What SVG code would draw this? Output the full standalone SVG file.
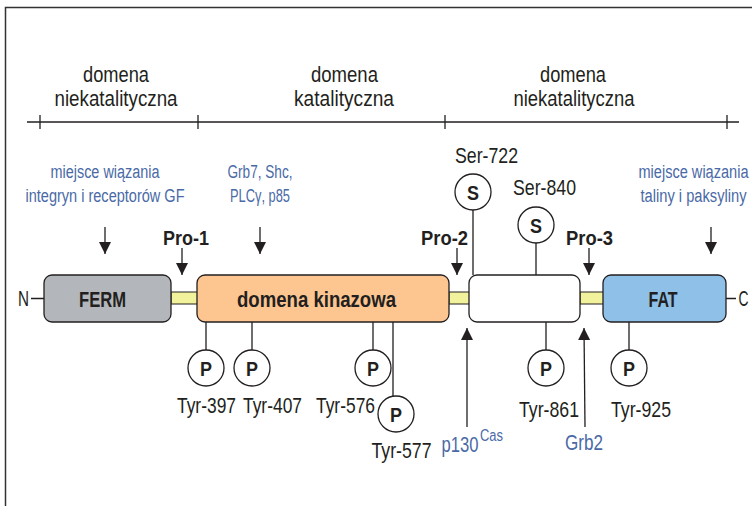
<svg xmlns="http://www.w3.org/2000/svg" width="752" height="506" viewBox="0 0 752 506">
<defs>
<style>
text{font-family:"Liberation Sans",Arial,sans-serif;fill:#231f20;text-anchor:middle}
.h{font-size:22px}
.b{font-size:18px;fill:#4a6aa6}
.bb{font-size:22px;fill:#4a6aa6}
.bold{font-weight:bold;font-size:21px}
.lab{font-size:22px}
.ln{stroke:#231f20;stroke-width:1.3;fill:none}
.circ{fill:#fff;stroke:#231f20;stroke-width:1.3}
.box{stroke:#231f20;stroke-width:1.3}
.link{fill:#f3f29c;stroke:#231f20;stroke-width:1}
</style>
<marker id="ah" viewBox="0 0 10 10" refX="10" refY="5" markerWidth="12" markerHeight="12" markerUnits="userSpaceOnUse" orient="auto">
<path d="M0,0 L10,5 L0,10 z" fill="#231f20"/>
</marker>
</defs>
<rect width="752" height="506" fill="#fff"/>
<g id="frame">
<path d="M5.5,506 V7.5 H752" fill="none" stroke="#333" stroke-width="1.5"/>
</g>
<g id="axis">
<path class="ln" d="M27,122 H739 M40,115 V129 M198,115 V129 M445,115 V129 M727,115 V129"/>
<text class="h" x="116" y="82" textLength="66" lengthAdjust="spacingAndGlyphs">domena</text>
<text class="h" x="116" y="106" textLength="123" lengthAdjust="spacingAndGlyphs">niekatalityczna</text>
<text class="h" x="344.5" y="82" textLength="67" lengthAdjust="spacingAndGlyphs">domena</text>
<text class="h" x="344" y="106" textLength="100" lengthAdjust="spacingAndGlyphs">katalityczna</text>
<text class="h" x="573" y="82" textLength="66" lengthAdjust="spacingAndGlyphs">domena</text>
<text class="h" x="574" y="106" textLength="121" lengthAdjust="spacingAndGlyphs">niekatalityczna</text>
</g>
<g id="connectors">
<path class="ln" d="M31,298.5 H44 M726,298.5 H736"/>
<path class="ln" d="M105,227 V254" marker-end="url(#ah)"/>
<path class="ln" d="M260,227 V254" marker-end="url(#ah)"/>
<path class="ln" d="M711,227 V254" marker-end="url(#ah)"/>
<path class="ln" d="M182,248 V275" marker-end="url(#ah)"/>
<path class="ln" d="M457,248 V275" marker-end="url(#ah)"/>
<path class="ln" d="M589,248 V275" marker-end="url(#ah)"/>
<path class="ln" d="M467,427 V328" marker-end="url(#ah)"/>
<path class="ln" d="M585,427 L584,328" marker-end="url(#ah)"/>
<path class="ln" d="M206,322 V350 M252,322 V350 M373,322 V350 M393,322 V396 M546,322 V350 M629,322 V350 M473,210 V275 M536,243 V275"/>
</g>
<g id="linkers">
<rect class="link" x="171" y="292" width="27" height="12"/>
<rect class="link" x="449" y="292" width="21" height="12"/>
<rect class="link" x="580" y="292" width="24" height="12"/>
</g>
<g id="ferm">
<rect class="box" x="44" y="275" width="127" height="47" rx="8" fill="#b3b7bb"/>
<text class="bold" x="102.5" y="306.5" style="font-size:22px" textLength="47" lengthAdjust="spacingAndGlyphs">FERM</text>
</g>
<g id="kinase">
<rect class="box" x="197" y="275" width="252" height="47" rx="8" fill="#fdc691"/>
<text class="bold" x="316.5" y="306.5" style="font-size:22px" textLength="159" lengthAdjust="spacingAndGlyphs">domena kinazowa</text>
</g>
<g id="middle">
<rect class="box" x="469" y="275" width="111" height="47" rx="8" fill="#fff"/>
</g>
<g id="fat">
<rect class="box" x="603" y="275" width="123" height="47" rx="8" fill="#8fc0e8"/>
<text class="bold" x="663" y="306.5" style="font-size:22px" textLength="29" lengthAdjust="spacingAndGlyphs">FAT</text>
</g>
<g id="termini">
<text class="lab" x="23.5" y="306" textLength="11" lengthAdjust="spacingAndGlyphs">N</text>
<text class="lab" x="743.5" y="306" textLength="10" lengthAdjust="spacingAndGlyphs">C</text>
</g>
<g id="labels-top">
<text class="b" x="105" y="178" textLength="109" lengthAdjust="spacingAndGlyphs">miejsce wiązania</text>
<text class="b" x="105" y="202" textLength="159" lengthAdjust="spacingAndGlyphs">integryn i receptorów GF</text>
<text class="b" x="260" y="178" textLength="65" lengthAdjust="spacingAndGlyphs">Grb7, Shc,</text>
<text class="b" x="260" y="202" textLength="60" lengthAdjust="spacingAndGlyphs">PLCγ, p85</text>
<text class="b" x="693.5" y="178" textLength="110" lengthAdjust="spacingAndGlyphs">miejsce wiązania</text>
<text class="b" x="693.5" y="202" textLength="106" lengthAdjust="spacingAndGlyphs">taliny i paksyliny</text>
<text class="bold" x="186" y="245" textLength="46" lengthAdjust="spacingAndGlyphs">Pro-1</text>
<text class="bold" x="444.5" y="245" textLength="47" lengthAdjust="spacingAndGlyphs">Pro-2</text>
<text class="bold" x="589.5" y="245" textLength="47" lengthAdjust="spacingAndGlyphs">Pro-3</text>
<text class="lab" x="486.5" y="163" textLength="63" lengthAdjust="spacingAndGlyphs">Ser-722</text>
<text class="lab" x="544.5" y="195" textLength="63" lengthAdjust="spacingAndGlyphs">Ser-840</text>
</g>
<g id="ser722"><circle class="circ" cx="473" cy="192" r="18"/><text class="bold" x="473" y="199.5" textLength="12" lengthAdjust="spacingAndGlyphs">S</text></g>
<g id="ser840"><circle class="circ" cx="536" cy="225" r="18"/><text class="bold" x="536" y="232.5" textLength="12" lengthAdjust="spacingAndGlyphs">S</text></g>
<g id="tyr397"><circle class="circ" cx="206" cy="368" r="18"/><text class="bold" x="206" y="375.5" textLength="12" lengthAdjust="spacingAndGlyphs">P</text><text class="lab" x="206.5" y="413" textLength="59" lengthAdjust="spacingAndGlyphs">Tyr-397</text></g>
<g id="tyr407"><circle class="circ" cx="252" cy="368" r="18"/><text class="bold" x="252" y="375.5" textLength="12" lengthAdjust="spacingAndGlyphs">P</text><text class="lab" x="272.5" y="413" textLength="59" lengthAdjust="spacingAndGlyphs">Tyr-407</text></g>
<g id="tyr576"><circle class="circ" cx="373" cy="368" r="18"/><text class="bold" x="373" y="375.5" textLength="12" lengthAdjust="spacingAndGlyphs">P</text><text class="lab" x="345.5" y="413" textLength="59" lengthAdjust="spacingAndGlyphs">Tyr-576</text></g>
<g id="tyr577"><circle class="circ" cx="396" cy="414" r="18"/><text class="bold" x="396" y="421.5" textLength="12" lengthAdjust="spacingAndGlyphs">P</text><text class="lab" x="401.5" y="458" textLength="60" lengthAdjust="spacingAndGlyphs">Tyr-577</text></g>
<g id="tyr861"><circle class="circ" cx="546" cy="368" r="18"/><text class="bold" x="546" y="375.5" textLength="12" lengthAdjust="spacingAndGlyphs">P</text><text class="lab" x="549" y="417" textLength="60" lengthAdjust="spacingAndGlyphs">Tyr-861</text></g>
<g id="tyr925"><circle class="circ" cx="629" cy="368" r="18"/><text class="bold" x="629" y="375.5" textLength="12" lengthAdjust="spacingAndGlyphs">P</text><text class="lab" x="641" y="417" textLength="60" lengthAdjust="spacingAndGlyphs">Tyr-925</text></g>
<g id="p130">
<text class="bb" x="460" y="452" textLength="37" lengthAdjust="spacingAndGlyphs">p130</text>
<text class="b" x="491.5" y="441" style="font-size:16px" textLength="23" lengthAdjust="spacingAndGlyphs">Cas</text>
</g>
<g id="grb2"><text class="bb" x="584" y="450" textLength="38" lengthAdjust="spacingAndGlyphs">Grb2</text></g>
</svg>
